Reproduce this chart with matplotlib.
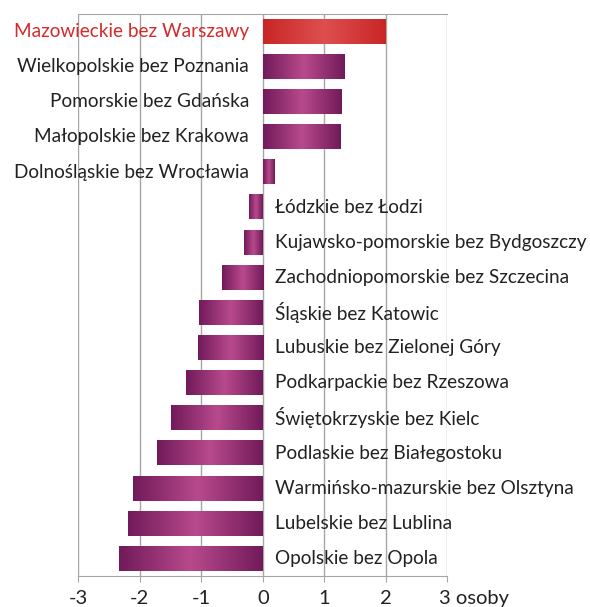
import numpy as np
import matplotlib.pyplot as plt
from matplotlib.colors import LinearSegmentedColormap
from matplotlib.transforms import ScaledTranslation

# regions (top to bottom) and change in persons
regions = [
    "Mazowieckie bez Warszawy",
    "Wielkopolskie bez Poznania",
    "Pomorskie bez Gdańska",
    "Małopolskie bez Krakowa",
    "Dolnośląskie bez Wrocławia",
    "Łódzkie bez Łodzi",
    "Kujawsko-pomorskie bez Bydgoszczy",
    "Zachodniopomorskie bez Szczecina",
    "Śląskie bez Katowic",
    "Lubuskie bez Zielonej Góry",
    "Podkarpackie bez Rzeszowa",
    "Świętokrzyskie bez Kielc",
    "Podlaskie bez Białegostoku",
    "Warmińsko-mazurskie bez Olsztyna",
    "Lubelskie bez Lublina",
    "Opolskie bez Opola",
]
values = [2.0, 1.33, 1.28, 1.26, 0.19, -0.22, -0.30, -0.67,
          -1.03, -1.06, -1.25, -1.49, -1.72, -2.11, -2.19, -2.33]
xticks = [-3, -2, -1, 0, 1, 2, 3]
xticklabels = ["-3", "-2", "-1", "0", "1", "2", "3 osoby"]

plt.rcParams["font.family"] = ["Lato", "DejaVu Sans"]

purple = LinearSegmentedColormap.from_list("purple", ["#711a5a", "#b84a8c", "#711a5a"])
red = LinearSegmentedColormap.from_list("red", ["#c92626", "#de4f4f", "#c92626"])
grad = np.linspace(0, 1, 256).reshape(1, -1)

fig = plt.figure(figsize=(5.9, 6.07), dpi=100)
ax = fig.add_axes([0.1327, 0.051, 0.6254, 0.926])

n = len(regions)
ypos = np.arange(n)[::-1]
h = 0.7
fs = 13.7

for i, (name, v, y) in enumerate(zip(regions, values, ypos)):
    left, right = min(0, v), max(0, v)
    cmap = red if i == 0 else purple
    ax.imshow(grad, cmap=cmap, aspect="auto", extent=[left, right, y - h / 2, y + h / 2],
              interpolation="bicubic", zorder=2)
    if v >= 0:
        ax.annotate(name, xy=(0, y), xytext=(-10, 0), textcoords="offset points",
                    ha="right", va="center", fontsize=fs,
                    color="#d42a2a" if i == 0 else "#222222", zorder=3)
    else:
        ax.annotate(name, xy=(0, y), xytext=(8.5, 0), textcoords="offset points",
                    ha="left", va="center", fontsize=fs, color="#222222", zorder=3)

ax.set_xlim(-3, 3)
ax.set_ylim(-0.5, n - 0.5)
ax.set_xticks(xticks)
ax.set_xticklabels(xticklabels)
ax.set_yticks([])
ax.grid(axis="x", color="#a6a6a6", linewidth=1, zorder=0)
ax.set_axisbelow(True)
for s in ["left", "right"]:
    ax.spines[s].set_visible(False)
ax.spines["top"].set_color("#a6a6a6")
ax.spines["bottom"].set_color("#a6a6a6")
ax.tick_params(axis="x", length=4, color="#a6a6a6", labelsize=14.5, labelcolor="#222222", pad=6)

# "3 osoby" starts at the last tick instead of being centred on it
last = ax.get_xticklabels()[-1]
last.set_horizontalalignment("left")
last.set_transform(last.get_transform() + ScaledTranslation(-6 / 72, 0, fig.dpi_scale_trans))

fig.savefig("out.png", dpi=100)
